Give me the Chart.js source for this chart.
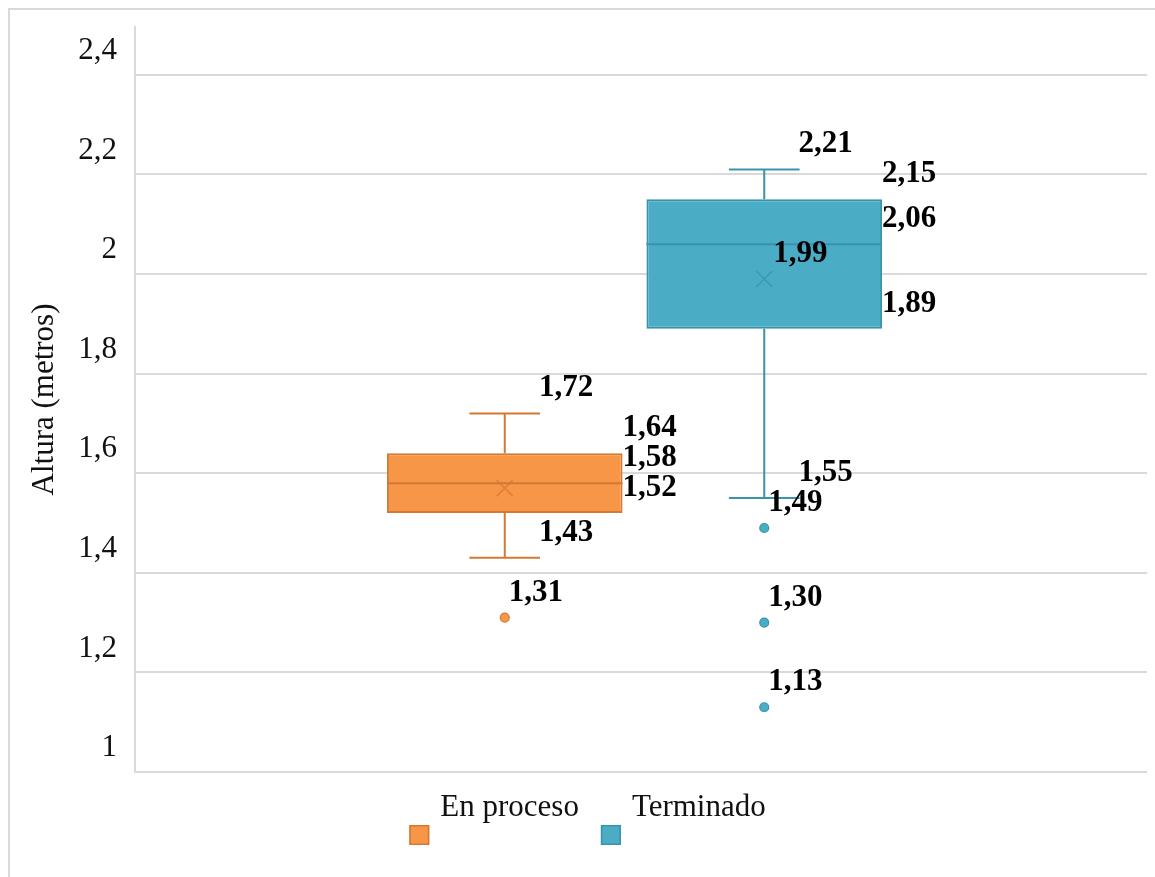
<!DOCTYPE html>
<html>
<head>
<meta charset="utf-8">
<script src="https://cdn.jsdelivr.net/npm/chart.js@4"></script>
<style>
  body { margin: 0; background: #fff; }
  #wrap { width: 1155px; height: 877px; position: relative; }
</style>
</head>
<body>
<div id="wrap"><canvas id="boxChart"></canvas></div>
<script>
// box plot values (metres), one entry per series
const seriesNames = ['En proceso', 'Terminado'];
const whiskerLow = [1.43, 1.55];
const quartile1 = [1.52, 1.89];
const medians = [1.58, 2.06];
const quartile3 = [1.64, 2.15];
const whiskerHigh = [1.72, 2.21];
const means = [1.57, 1.99];
const outliers = [[1.31], [1.49, 1.30, 1.13]];
const showMeanLabel = [false, true];
const yTicks = [1, 1.2, 1.4, 1.6, 1.8, 2, 2.2, 2.4];

const fillColors = ['#F79646', '#4BACC6'];
const lineColors = ['#D27A34', '#3A93AC'];
const gridExtra = 13; // gridlines run a bit past the plot's right side

function fmt(v, digits) {
    return Number(v.toFixed(digits)).toString().replace('.', ',');
}
function fmt2(v) {
    return v.toFixed(2).replace('.', ',');
}

// whiskers, medians, means, outliers and value labels
const boxExtras = {
    id: 'boxExtras',
    beforeDraw(chart) {
        const ctx = chart.ctx;
        ctx.save();
        ctx.strokeStyle = '#d9d9d9';
        ctx.lineWidth = 2;
        ctx.strokeRect(9, 9, chart.width + 50, chart.height + 50);
        ctx.restore();
    },
    beforeDatasetsDraw(chart) {
        const ctx = chart.ctx;
        const y = chart.scales.y;
        const right = chart.chartArea.right;
        ctx.save();
        ctx.strokeStyle = '#d9d9d9';
        ctx.lineWidth = 2;
        ctx.beginPath();
        yTicks.forEach(v => {
            const py = Math.round(y.getPixelForValue(v));
            ctx.moveTo(right - 1, py);
            ctx.lineTo(right + gridExtra, py);
        });
        ctx.stroke();
        ctx.restore();
    },
    afterDatasetsDraw(chart) {
        const ctx = chart.ctx;
        const y = chart.scales.y;
        ctx.save();
        seriesNames.forEach((name, i) => {
            const bar = chart.getDatasetMeta(i).data[0];
            const cx = bar.x;
            const half = bar.width / 2;
            const cap = bar.width * 0.15;
            ctx.strokeStyle = lineColors[i];
            ctx.lineWidth = 2;
            ctx.beginPath();
            // upper whisker
            ctx.moveTo(cx, y.getPixelForValue(quartile3[i]));
            ctx.lineTo(cx, y.getPixelForValue(whiskerHigh[i]));
            ctx.moveTo(cx - cap, y.getPixelForValue(whiskerHigh[i]));
            ctx.lineTo(cx + cap, y.getPixelForValue(whiskerHigh[i]));
            // lower whisker
            ctx.moveTo(cx, y.getPixelForValue(quartile1[i]));
            ctx.lineTo(cx, y.getPixelForValue(whiskerLow[i]));
            ctx.moveTo(cx - cap, y.getPixelForValue(whiskerLow[i]));
            ctx.lineTo(cx + cap, y.getPixelForValue(whiskerLow[i]));
            // median
            ctx.moveTo(cx - half, y.getPixelForValue(medians[i]));
            ctx.lineTo(cx + half, y.getPixelForValue(medians[i]));
            ctx.stroke();

            // mean cross
            const my = y.getPixelForValue(means[i]);
            ctx.lineWidth = 1.5;
            ctx.globalAlpha = 0.8;
            ctx.beginPath();
            ctx.moveTo(cx - 8, my - 8);
            ctx.lineTo(cx + 8, my + 8);
            ctx.moveTo(cx + 8, my - 8);
            ctx.lineTo(cx - 8, my + 8);
            ctx.stroke();
            ctx.globalAlpha = 1;

            // outliers
            outliers[i].forEach(v => {
                ctx.beginPath();
                ctx.arc(cx, y.getPixelForValue(v), 4.5, 0, Math.PI * 2);
                ctx.fillStyle = fillColors[i];
                ctx.fill();
                ctx.lineWidth = 1.2;
                ctx.stroke();
            });

            // labels
            ctx.fillStyle = '#000';
            ctx.font = 'bold 31px "Liberation Serif", "Times New Roman", serif';
            ctx.textAlign = 'left';
            ctx.textBaseline = 'middle';
            const lift = 25;
            const put = (v, x) => ctx.fillText(fmt2(v), x, y.getPixelForValue(v) - lift);
            put(whiskerHigh[i], cx + cap - 1);
            put(whiskerLow[i], cx + cap - 1);
            put(quartile3[i], cx + half);
            put(medians[i], cx + half);
            put(quartile1[i], cx + half);
            if (showMeanLabel[i]) put(means[i], cx + 9);
            outliers[i].forEach(v => put(v, cx + 4));
        });
        ctx.restore();
    },
    afterDraw(chart) {
        // legend: text above, swatch below-left (as in the original)
        const ctx = chart.ctx;
        ctx.save();
        ctx.font = '31px "Liberation Serif", "Times New Roman", serif';
        ctx.textBaseline = 'middle';
        ctx.textAlign = 'left';
        const widths = seriesNames.map(n => ctx.measureText(n).width);
        const total = widths.reduce((a, b) => a + b, 0) + seriesNames.length * 31 + 22;
        let x = chart.width / 2 + 10 - total / 2;
        seriesNames.forEach((n, i) => {
            ctx.fillStyle = fillColors[i];
            ctx.fillRect(x, 825, 20, 20);
            ctx.strokeStyle = lineColors[i];
            ctx.lineWidth = 1.5;
            ctx.strokeRect(x + 0.75, 825.75, 18.5, 18.5);
            ctx.fillStyle = '#111';
            ctx.fillText(n, x + 31, 808);
            x += 31 + widths[i] + 22;
        });
        ctx.restore();
    }
};

const ctx = document.getElementById('boxChart').getContext('2d');
const boxChart = new Chart(ctx, {
    type: 'bar',
    data: {
        labels: [''],
        datasets: seriesNames.map((name, i) => ({
            label: name,
            data: [[quartile1[i], quartile3[i]]],
            backgroundColor: fillColors[i],
            borderColor: lineColors[i],
            borderWidth: 2,
            borderSkipped: false,
            categoryPercentage: 0.5195,
            barPercentage: 0.908
        }))
    },
    options: {
        responsive: true,
        maintainAspectRatio: false,
        animation: false,
        layout: {
            padding: { top: 27, right: 8 + gridExtra, bottom: 105, left: 0 }
        },
        plugins: {
            legend: { display: false },
            tooltip: { enabled: false }
        },
        scales: {
            x: { display: false },
            y: {
                min: 1,
                max: 2.496,
                afterBuildTicks: function(scale) {
                    scale.ticks = yTicks.map(v => ({ value: v }));
                },
                afterFit: function(scale) {
                    scale.width = 135;
                    scale.paddingTop = 0;
                    scale.paddingBottom = 0;
                },
                border: { color: '#d9d9d9', width: 2 },
                grid: { color: '#d9d9d9', lineWidth: 2, drawTicks: false },
                ticks: {
                    padding: 18,
                    labelOffset: -24,
                    color: '#111',
                    font: { family: '"Liberation Serif", "Times New Roman", serif', size: 31 },
                    callback: function(value) {
                        return fmt(value, 1);
                    }
                },
                title: {
                    display: true,
                    text: 'Altura (metros)',
                    color: '#111',
                    padding: { top: 26, bottom: 0 },
                    font: { family: '"Liberation Serif", "Times New Roman", serif', size: 31 }
                }
            }
        }
    },
    plugins: [boxExtras]
});
</script>
</body>
</html>
